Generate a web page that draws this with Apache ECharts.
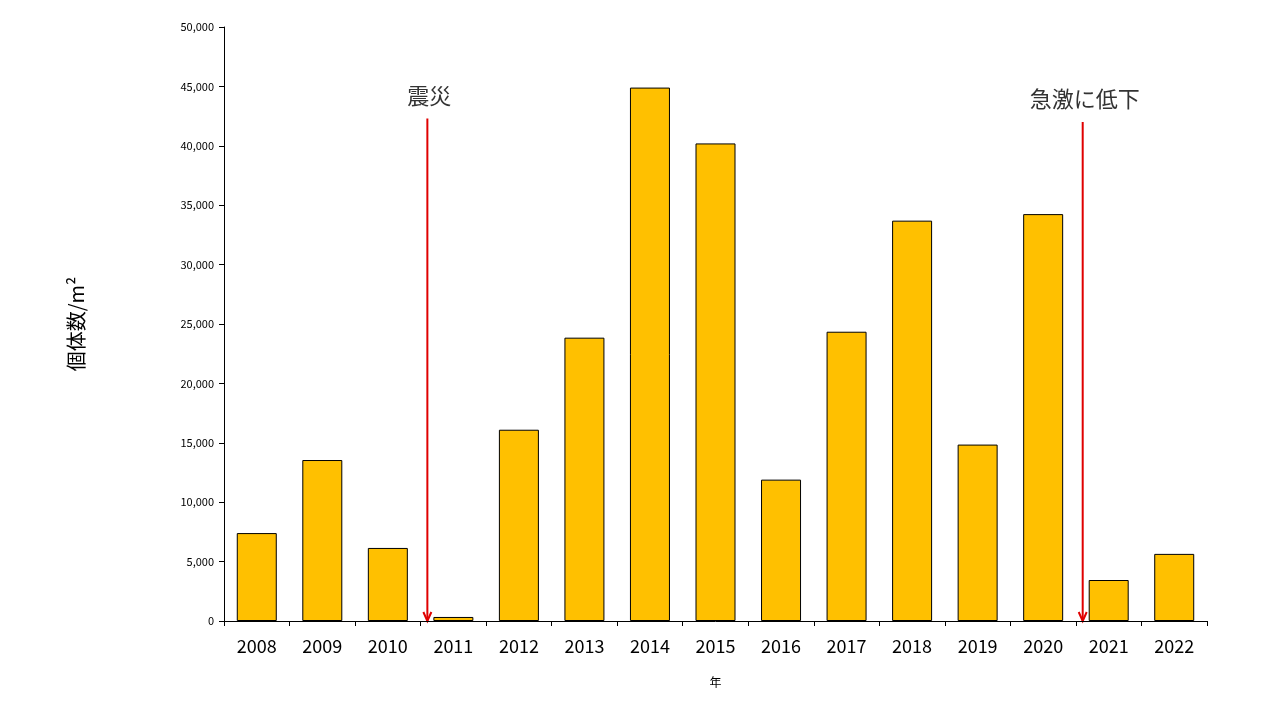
<!DOCTYPE html>
<html><head><meta charset="utf-8">
<script src="https://cdn.jsdelivr.net/npm/echarts@6/dist/echarts.min.js"></script>
<style>html,body{margin:0;background:#fff}#c{width:1280px;height:720px}</style>
</head><body><div id="c"></div>
<script>
const years = ["2008","2009","2010","2011","2012","2013","2014","2015","2016","2017","2018","2019","2020","2021","2022"];
const counts = [7400, 13550, 6150, 340, 16100, 23850, 44900, 40200, 11900, 24350, 33700, 14850, 34250, 3450, 5650];
const notes = [
  { year: "2011", label: "震災", top: 42300 },
  { year: "2021", label: "急激に低下", top: 42000 }
];

const font = '"Noto Sans CJK JP", "Noto Sans", sans-serif';
const chart = echarts.init(document.getElementById("c"));
chart.setOption({
  animation: false,
  grid: { left: 224, right: 73, top: 27, bottom: 99 },
  xAxis: {
    type: "category", data: years,
    name: "年", nameLocation: "middle", nameGap: 55,
    nameTextStyle: { fontSize: 12, color: "#000", fontFamily: font },
    axisLine: { lineStyle: { color: "#000" } },
    axisTick: { show: true, length: 5, lineStyle: { color: "#000" } },
    axisLabel: { fontSize: 18, color: "#000", margin: 16, fontFamily: font }
  },
  yAxis: {
    type: "value", min: 0, max: 50000, interval: 5000,
    name: "個体数/m²", nameLocation: "middle", nameGap: 138, nameRotate: 90,
    nameTextStyle: { fontSize: 20, color: "#000", fontFamily: font },
    splitLine: { show: false },
    axisLine: { show: true, lineStyle: { color: "#000" } },
    axisTick: { show: true, length: 5, lineStyle: { color: "#000" } },
    axisLabel: { fontSize: 11, color: "#000", margin: 10, fontFamily: font }
  },
  series: [{
    type: "bar", data: counts, barWidth: 40,
    itemStyle: { color: "#ffc000", borderColor: "#000", borderWidth: 1 }
  }]
});

const graphics = [];
notes.forEach(n => {
  const x = chart.convertToPixel({ xAxisIndex: 0 }, n.year) - 26;
  const yTop = chart.convertToPixel({ yAxisIndex: 0 }, n.top);
  const yBot = chart.convertToPixel({ yAxisIndex: 0 }, 0);
  graphics.push(
    { type: "line", shape: { x1: x, y1: yTop, x2: x, y2: yBot }, style: { stroke: "#e00000", lineWidth: 2 } },
    { type: "polyline", shape: { points: [[x - 4, yBot - 9], [x, yBot], [x + 4, yBot - 9]] }, style: { stroke: "#e00000", lineWidth: 2, fill: null } },
    { type: "text", x: x + 2, y: yTop - 12, style: { text: n.label, font: "22px " + font, fill: "#333", align: "center", verticalAlign: "bottom" } }
  );
});
chart.setOption({ graphic: graphics });
</script></body></html>
